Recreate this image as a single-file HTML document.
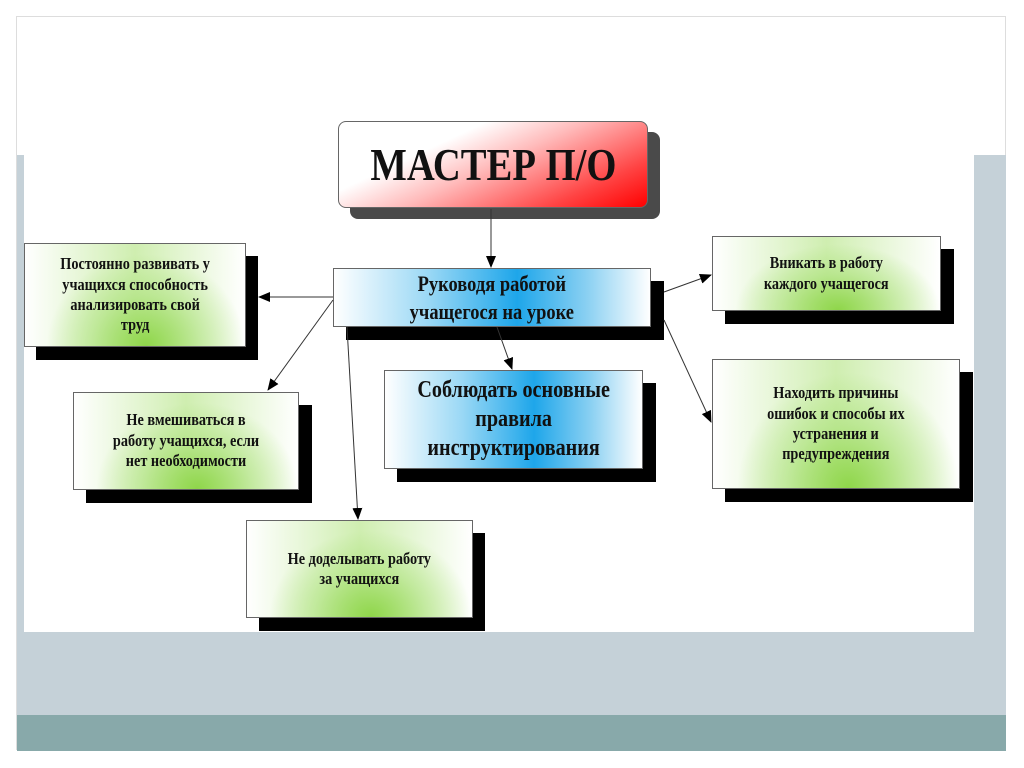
<!DOCTYPE html>
<html><head><meta charset="utf-8"><style>
body{margin:0;width:1024px;height:768px;background:#fff;position:relative;overflow:hidden;font-family:"Liberation Serif",serif;}
.a{position:absolute;}
.b{position:absolute;box-sizing:border-box;border:1px solid #666;display:flex;align-items:center;justify-content:center;text-align:center;font-weight:bold;color:#111;line-height:1.2;}
.b span{display:inline-block;transform:scaleX(.84);white-space:nowrap;}
.g{background:radial-gradient(ellipse 45% 90% at 55% 100%,#8fd64a 0%,rgba(170,225,120,.6) 55%,rgba(255,255,255,0) 100%),linear-gradient(90deg,#fff 0%,#cfeeb0 50%,#fff 100%);font-size:17px;}
.bl{background:linear-gradient(90deg,#fff 0%,#9ad8f5 30%,#1ea6ea 58%,#8ad0f2 80%,#fff 100%);}
.s{position:absolute;background:#000;}
</style></head><body>
<div class="a" style="left:16px;top:16px;width:990px;height:734px;border:1px solid #ddd;box-sizing:border-box"></div>
<div class="a" style="left:17px;top:155px;width:989px;height:560px;background:#c5d1d8"></div>
<div class="a" style="left:24px;top:155px;width:950px;height:477px;background:#fff"></div>
<div class="a" style="left:17px;top:715px;width:989px;height:36px;background:#88a9aa"></div>

<div class="a" style="left:350px;top:132px;width:310px;height:87px;background:#4a4a4a;border-radius:8px"></div>
<div class="s" style="left:36px;top:256px;width:222px;height:104px"></div>
<div class="s" style="left:346px;top:281px;width:318px;height:59px"></div>
<div class="s" style="left:725px;top:249px;width:229px;height:75px"></div>
<div class="s" style="left:725px;top:372px;width:248px;height:130px"></div>
<div class="s" style="left:86px;top:405px;width:226px;height:98px"></div>
<div class="s" style="left:397px;top:383px;width:259px;height:99px"></div>
<div class="s" style="left:259px;top:533px;width:226px;height:98px"></div>

<div class="b" style="left:338px;top:121px;width:310px;height:87px;border-radius:8px;background:linear-gradient(155deg,#fff 30%,#fbb 50%,#f44 80%,#f00 100%);font-size:46px;"><span>МАСТЕР П/О</span></div>
<div class="b g" style="left:24px;top:243px;width:222px;height:104px"><span>Постоянно развивать у<br>учащихся способность<br>анализировать свой<br>труд</span></div>
<div class="b bl" style="left:333px;top:268px;width:318px;height:59px;font-size:22px;line-height:1.25"><span>Руководя работой<br>учащегося на уроке</span></div>
<div class="b g" style="left:712px;top:236px;width:229px;height:75px"><span>Вникать в работу<br>каждого учащегося</span></div>
<div class="b g" style="left:712px;top:359px;width:248px;height:130px"><span>Находить причины<br>ошибок и способы их<br>устранения и<br>предупреждения</span></div>
<div class="b g" style="left:73px;top:392px;width:226px;height:98px"><span>Не вмешиваться в<br>работу учащихся, если<br>нет необходимости</span></div>
<div class="b bl" style="left:384px;top:370px;width:259px;height:99px;font-size:24px;line-height:1.2"><span>Соблюдать основные<br>правила<br>инструктирования</span></div>
<div class="b g" style="left:246px;top:520px;width:227px;height:98px"><span>Не доделывать работу<br>за учащихся</span></div>

<svg class="a" style="left:0;top:0" width="1024" height="768">
<defs><marker id="m" markerWidth="12" markerHeight="10" refX="11" refY="5" orient="auto" markerUnits="userSpaceOnUse"><path d="M0,0 L12,5 L0,10z" fill="#000"/></marker></defs>
<g stroke="#333" stroke-width="1" fill="none" marker-end="url(#m)">
<line x1="491" y1="209" x2="491" y2="267"/>
<line x1="333" y1="297" x2="259" y2="297"/>
<line x1="333" y1="300" x2="268" y2="390"/>
<line x1="347" y1="327" x2="358" y2="519"/>
<line x1="497" y1="327" x2="512" y2="369"/>
<line x1="664" y1="292" x2="711" y2="275"/>
<line x1="664" y1="320" x2="711" y2="422"/>
</g></svg>
</body></html>
